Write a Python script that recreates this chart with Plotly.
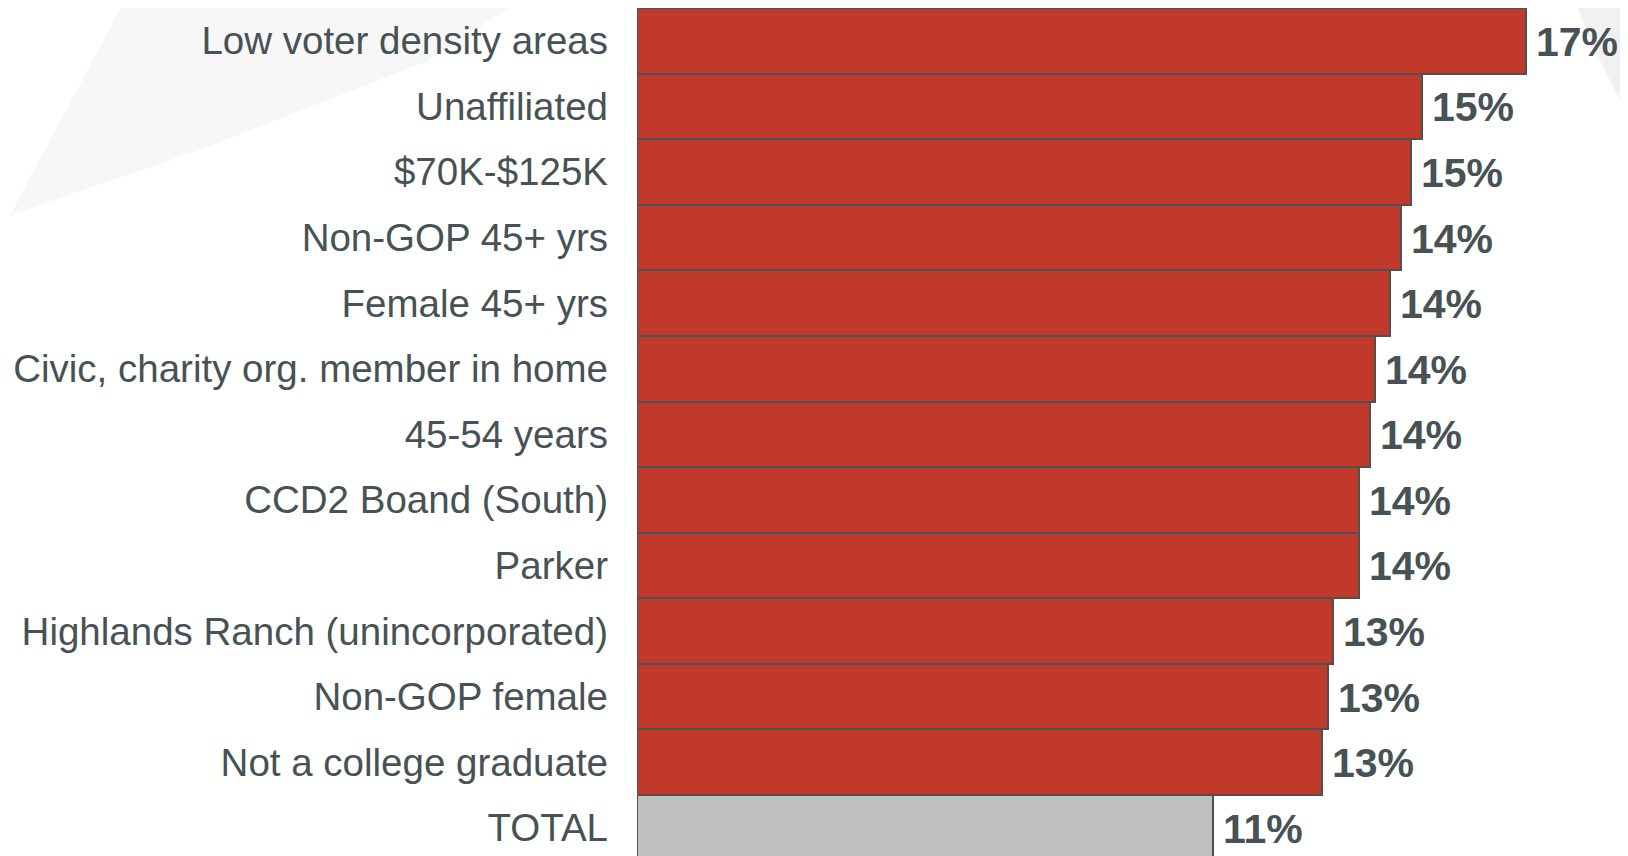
import plotly.graph_objects as go

categories = [
    "Low voter density areas",
    "Unaffiliated",
    "$70K-$125K",
    "Non-GOP 45+ yrs",
    "Female 45+ yrs",
    "Civic, charity org. member in home",
    "45-54 years",
    "CCD2 Boand (South)",
    "Parker",
    "Highlands Ranch (unincorporated)",
    "Non-GOP female",
    "Not a college graduate",
    "TOTAL",
]
values = [17.0, 15.0, 14.8, 14.6, 14.4, 14.1, 14.0, 13.8, 13.8, 13.3, 13.2, 13.1, 11.0]
value_labels = ["17%", "15%", "15%", "14%", "14%", "14%", "14%", "14%", "14%", "13%", "13%", "13%", "11%"]

RED = "#C0392B"
GREY = "#BFBFBF"
TEXT = "#465254"
OUTLINE = "#4B5254"

# the page body has an 8px margin; size the figure to the visible area
OFF = 8
W, H = 1620, 848
ML, MT, MB, MR = 629, 0, 0, 0
PW, PH = W - ML - MR, H - MT - MB


def px(x, y):
    """convert page pixels to paper coordinates"""
    fx, fy = x - OFF, y - OFF
    return (fx - ML) / PW, (H - MB - fy) / PH


def poly(points):
    pts = [px(x, y) for x, y in points]
    return "M " + " L ".join(f"{a:.4f},{b:.4f}" for a, b in pts) + " Z"


colors = [GREY if c == "TOTAL" else RED for c in categories]

fig = go.Figure()
fig.add_trace(go.Bar(
    x=values,
    y=categories,
    orientation="h",
    marker=dict(color=colors, line=dict(color=OUTLINE, width=2)),
    width=1.0,
    hoverinfo="skip",
))

for v, c, lab in zip(values, categories, value_labels):
    fig.add_annotation(
        x=v, y=c, text="<b>" + lab + "</b>", showarrow=False,
        xanchor="left", yanchor="middle", xshift=8, yshift=-1,
        font=dict(family="Liberation Sans, Arial, sans-serif", size=41, color=TEXT),
    )

# subtle background swooshes
fig.add_shape(type="path", xref="paper", yref="paper", layer="below",
              path=poly([(125, 0), (520, 0), (430, 60), (200, 150), (10, 215)]),
              fillcolor="#F7F7F7", line=dict(width=0))
fig.add_shape(type="path", xref="paper", yref="paper", layer="below",
              path=poly([(1575, 0), (1640, 0), (1640, 140), (1592, 45)]),
              fillcolor="#F1F1F1", line=dict(width=0))

fig.update_layout(
    width=W, height=H,
    margin=dict(l=ML, r=MR, t=MT, b=MB, autoexpand=False),
    paper_bgcolor="white", plot_bgcolor="rgba(0,0,0,0)",
    bargap=0, showlegend=False,
    xaxis=dict(range=[0, 18.94], visible=False, showgrid=False, zeroline=False,
               fixedrange=True, automargin=False),
    yaxis=dict(
        type="category", categoryorder="array", categoryarray=categories,
        range=[12.43, -0.5], showgrid=False, zeroline=False, showline=False,
        ticks="", ticklabelstandoff=28, automargin=False,
        tickfont=dict(family="Liberation Sans, Arial, sans-serif", size=38.5, color=TEXT),
    ),
    font=dict(family="Liberation Sans, Arial, sans-serif"),
)

fig.write_html("out.html")
